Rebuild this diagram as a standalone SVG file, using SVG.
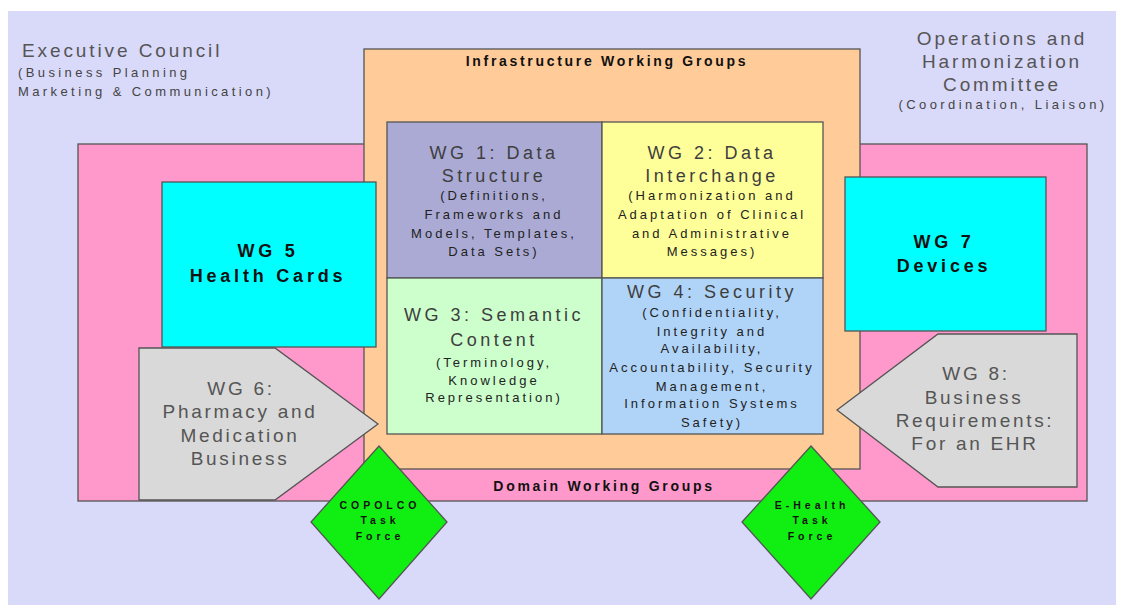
<svg xmlns="http://www.w3.org/2000/svg" width="1124" height="613" viewBox="0 0 1124 613">
  <style>
    text { font-family: "Liberation Sans", Arial, sans-serif; text-anchor: middle; }
    .box { stroke: #555; stroke-width: 1.3; }
    .big { font-size: 18px; letter-spacing: 3.5px; fill: #3e3e3e; }
    .small { font-size: 13px; letter-spacing: 3px; fill: #222; }
    .gray { font-size: 19px; letter-spacing: 2.7px; fill: #555; }
    .bold { font-weight: bold; fill: #111; }
    .title { font-size: 14px; letter-spacing: 2.7px; }
    .card { font-size: 18px; letter-spacing: 3.8px; }
    .tf { font-size: 10.5px; letter-spacing: 4px; }
    .side { font-size: 19px; letter-spacing: 2.9px; fill: #555; }
    .sidesub { font-size: 13px; letter-spacing: 3.4px; fill: #444; }
  </style>

  <!-- page background -->
  <rect x="0" y="0" width="1124" height="613" fill="#ffffff"/>
  <rect x="8" y="11" width="1108" height="594" fill="#d9d9f9"/>

  <!-- committees at the top corners -->
  <g id="executive-council">
    <text class="side" x="22" y="57" style="text-anchor:start">Executive Council</text>
    <text class="sidesub" x="18" y="77" style="text-anchor:start">(Business Planning</text>
    <text class="sidesub" x="18" y="96" style="text-anchor:start">Marketing &amp; Communication)</text>
  </g>
  <g id="operations-committee">
    <text class="side" x="1002" y="45">Operations and</text>
    <text class="side" x="1002" y="68">Harmonization</text>
    <text class="side" x="1002" y="91">Committee</text>
    <text class="sidesub" x="1003" y="109">(Coordination, Liaison)</text>
  </g>

  <!-- domain working groups frame -->
  <g id="domain-working-groups">
    <rect class="box" x="78" y="144" width="1009" height="357" fill="#ff99cc"/>
    <text class="bold title" x="604" y="491">Domain Working Groups</text>
  </g>

  <!-- infrastructure working groups frame -->
  <g id="infrastructure-working-groups">
    <rect class="box" x="364" y="49" width="496" height="420" fill="#ffcc99"/>
    <text class="bold title" x="607" y="66">Infrastructure Working Groups</text>
  </g>

  <g id="wg1">
    <rect class="box" x="387" y="122" width="215" height="156" fill="#aaaad4"/>
    <text class="big" x="494" y="159">WG 1: Data</text>
    <text class="big" x="494" y="182">Structure</text>
    <text class="small" x="494" y="200">(Definitions,</text>
    <text class="small" x="494" y="219">Frameworks and</text>
    <text class="small" x="494" y="238">Models, Templates,</text>
    <text class="small" x="494" y="256">Data Sets)</text>
  </g>
  <g id="wg2">
    <rect class="box" x="602" y="122" width="221" height="156" fill="#ffff99"/>
    <text class="big" x="712" y="159">WG 2: Data</text>
    <text class="big" x="712" y="182">Interchange</text>
    <text class="small" x="712" y="200">(Harmonization and</text>
    <text class="small" x="712" y="219">Adaptation of Clinical</text>
    <text class="small" x="712" y="238">and Administrative</text>
    <text class="small" x="712" y="256">Messages)</text>
  </g>
  <g id="wg3">
    <rect class="box" x="387" y="278" width="215" height="156" fill="#ccffcc"/>
    <text class="big" x="494" y="321">WG 3: Semantic</text>
    <text class="big" x="494" y="346">Content</text>
    <text class="small" x="494" y="367">(Terminology,</text>
    <text class="small" x="494" y="385">Knowledge</text>
    <text class="small" x="494" y="402">Representation)</text>
  </g>
  <g id="wg4">
    <rect class="box" x="602" y="278" width="221" height="156" fill="#b0d4f8"/>
    <text class="big" x="712" y="298">WG 4: Security</text>
    <text class="small" x="712" y="317">(Confidentiality,</text>
    <text class="small" x="712" y="336">Integrity and</text>
    <text class="small" x="712" y="353">Availability,</text>
    <text class="small" x="712" y="372">Accountability, Security</text>
    <text class="small" x="712" y="391">Management,</text>
    <text class="small" x="712" y="408">Information Systems</text>
    <text class="small" x="712" y="427">Safety)</text>
  </g>

  <g id="wg5">
    <rect class="box" x="162" y="182" width="214" height="165" fill="#00ffff"/>
    <text class="bold card" x="268" y="257">WG 5</text>
    <text class="bold card" x="268" y="282">Health Cards</text>
  </g>
  <g id="wg7">
    <rect class="box" x="845" y="177" width="201" height="154" fill="#00ffff"/>
    <text class="bold card" x="944" y="248">WG 7</text>
    <text class="bold card" x="944" y="272">Devices</text>
  </g>

  <g id="wg6">
    <polygon class="box" points="139,348 275,348 378,424 275,500 139,500" fill="#d9d9d9"/>
    <text class="gray" x="241" y="395">WG 6:</text>
    <text class="gray" x="240" y="418">Pharmacy and</text>
    <text class="gray" x="240" y="442">Medication</text>
    <text class="gray" x="240" y="465">Business</text>
  </g>
  <g id="wg8">
    <polygon class="box" points="938,334 1077,334 1077,487 938,487 837,410" fill="#d9d9d9"/>
    <text class="gray" x="976" y="380">WG 8:</text>
    <text class="gray" x="974" y="404">Business</text>
    <text class="gray" x="975" y="427">Requirements:</text>
    <text class="gray" x="975" y="450">For an EHR</text>
  </g>

  <g id="copolco-task-force">
    <polygon class="box" points="379,446 447,522 379,599 311,522" fill="#11ee11"/>
    <text class="bold tf" x="380" y="509">COPOLCO</text>
    <text class="bold tf" x="380" y="524">Task</text>
    <text class="bold tf" x="380" y="540">Force</text>
  </g>
  <g id="ehealth-task-force">
    <polygon class="box" points="811,446 880,522 811,599 742,522" fill="#11ee11"/>
    <text class="bold tf" x="812" y="509">E-Health</text>
    <text class="bold tf" x="812" y="524">Task</text>
    <text class="bold tf" x="812" y="540">Force</text>
  </g>

  <g id="connectors"/>
</svg>
